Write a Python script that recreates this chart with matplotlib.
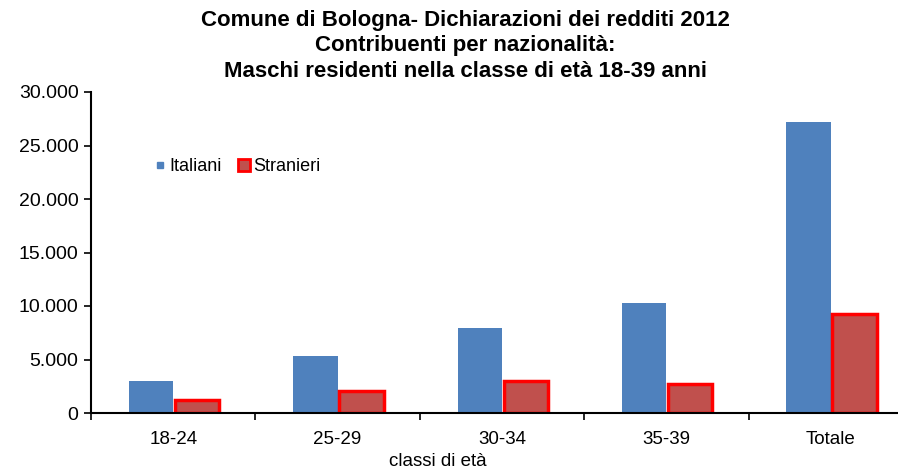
import matplotlib
matplotlib.use("Agg")
import matplotlib.pyplot as plt
from matplotlib.ticker import FuncFormatter, FixedLocator
from matplotlib.lines import Line2D
import numpy as np

plt.rcParams['font.family'] = ['Liberation Sans', 'DejaVu Sans']

categories = ["18-24", "25-29", "30-34", "35-39", "Totale"]
italiani = [3000, 5330, 7950, 10280, 27180]
stranieri = [1200, 2050, 3000, 2700, 9250]
yticks = [0, 5000, 10000, 15000, 20000, 25000, 30000]

fig = plt.figure(figsize=(8.98, 4.71), dpi=100)
W, H = 898, 471
x0, x1, y0, y1 = 91, 913, 413, 92
ax = fig.add_axes([x0 / W, 1 - y0 / H, (x1 - x0) / W, (y0 - y1) / H])

x = np.arange(len(categories))
bw = 0.27
ax.bar(x - bw / 2, italiani, width=bw, color="#4F81BD", label="Italiani", zorder=2)
ax.bar(x + bw / 2 + 0.01, stranieri, width=bw, color="#C0504D", edgecolor="#FF0000",
       linewidth=2.5, label="Stranieri", zorder=2)

ax.set_xlim(-0.5, len(categories) - 0.5)
ax.set_ylim(0, 30000)
ax.set_yticks(yticks)
ax.yaxis.set_major_formatter(FuncFormatter(lambda v, p: f"{int(v):,}".replace(",", ".")))
ax.set_xticks(x)
ax.set_xticklabels(categories)
ax.xaxis.set_minor_locator(FixedLocator(np.arange(-0.5, len(categories), 1.0)))
ax.tick_params(axis='x', which='major', length=0, labelsize=13.5, pad=13)
ax.tick_params(axis='x', which='minor', length=5, width=1.2, direction='out')
ax.tick_params(axis='y', length=5, width=1.2, direction='out', labelsize=14, pad=4)
for s in ["top", "right"]:
    ax.spines[s].set_visible(False)
for s in ["left", "bottom"]:
    ax.spines[s].set_linewidth(1.5)

handles = [Line2D([], [], marker='s', linestyle='none', markersize=5,
                  markerfacecolor="#4F81BD", markeredgecolor="#4F81BD"),
           Line2D([], [], marker='s', linestyle='none', markersize=9,
                  markerfacecolor="#C0504D", markeredgecolor="#FF0000", markeredgewidth=2)]
ax.legend(handles, ["Italiani", "Stranieri"], loc='upper left', bbox_to_anchor=(0.055, 0.845),
          ncol=2, frameon=False, fontsize=13, handletextpad=0.15, columnspacing=0.8,
          handlelength=0.8)

fig.text(465 / W, 1 - 46 / H,
         "Comune di Bologna- Dichiarazioni dei redditi 2012\nContribuenti per nazionalità:\nMaschi residenti nella classe di età 18-39 anni",
         ha='center', va='center', fontsize=16, fontweight='bold', linespacing=1.28)
fig.text(438 / W, 1 - 461 / H, "classi di età", ha='center', va='center', fontsize=13.5)

fig.savefig("out.png", dpi=100)
